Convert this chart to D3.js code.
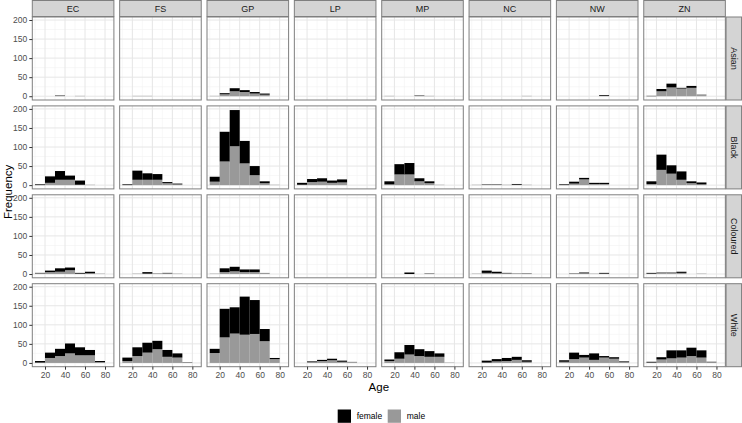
<!DOCTYPE html>
<html>
<head>
<meta charset="utf-8">
<script src="https://cdn.jsdelivr.net/npm/d3@7"></script>
<style>
  body { margin: 0; background: #fff; }
  svg { display: block; font-family: "Liberation Sans", Arial, sans-serif; }
</style>
</head>
<body>
<div id="chart"></div>
<script>
// facets
var provinces = ["EC", "FS", "GP", "LP", "MP", "NC", "NW", "ZN"];
var races = ["Asian", "Black", "Coloured", "White"];
// histogram bins (start of each 10-year bin)
var binStarts = [10, 20, 30, 40, 50, 60, 70];
var binWidth = 10;
var xTicks = [20, 40, 60, 80];
var yTicks = [0, 50, 100, 150, 200];
var genders = ["female", "male"];

// counts per province, one row per province, one value per bin
var femaleAsian = [
	[0, 0, 1, 0, 0, 0, 0], [0, 0, 0, 0, 0, 0, 0], [0, 3, 8, 5, 4, 3, 0], [0, 0, 0, 0, 0, 0, 0],
	[0, 0, 0, 1, 0, 0, 0], [0, 0, 0, 0, 0, 0, 0], [0, 0, 0, 0, 2, 0, 0], [1, 6, 10, 2, 5, 0, 0]];
var maleAsian = [
	[0, 0, 1, 0, 1, 0, 0], [0, 1, 1, 0, 0, 0, 0], [1, 5, 13, 11, 7, 4, 0], [0, 0, 0, 0, 0, 0, 0],
	[1, 0, 0, 1, 1, 0, 0], [0, 0, 0, 0, 0, 1, 0], [0, 0, 0, 0, 1, 0, 0], [0, 13, 23, 20, 22, 5, 0]];
var femaleBlack = [
	[2, 17, 23, 11, 11, 0, 0], [2, 24, 17, 15, 3, 2, 0], [13, 78, 95, 59, 24, 5, 0], [5, 8, 9, 6, 8, 0, 0],
	[8, 27, 30, 8, 5, 0, 0], [0, 1, 1, 0, 2, 0, 0], [2, 5, 4, 3, 3, 0, 0], [7, 40, 22, 22, 5, 5, 0]];
var maleBlack = [
	[0, 6, 14, 14, 1, 1, 0], [0, 14, 14, 14, 5, 2, 0], [9, 62, 102, 57, 26, 5, 1], [1, 8, 9, 6, 7, 0, 0],
	[2, 28, 28, 10, 5, 1, 0], [1, 1, 1, 1, 1, 1, 0], [0, 4, 15, 3, 3, 0, 0], [3, 40, 30, 14, 5, 2, 0]];
var femaleColoured = [
	[1, 4, 9, 7, 2, 4, 0], [0, 0, 4, 0, 1, 0, 0], [0, 10, 12, 7, 7, 0, 0], [0, 0, 0, 0, 0, 0, 0],
	[0, 0, 4, 0, 1, 0, 0], [0, 6, 4, 1, 0, 1, 0], [0, 1, 2, 0, 2, 0, 0], [2, 1, 1, 3, 0, 0, 0]];
var maleColoured = [
	[2, 5, 6, 10, 1, 2, 1], [0, 1, 1, 2, 2, 1, 0], [1, 5, 7, 5, 5, 3, 0], [0, 0, 0, 0, 0, 0, 0],
	[0, 0, 0, 0, 0, 0, 0], [1, 3, 2, 2, 2, 0, 0], [0, 0, 2, 1, 1, 0, 0], [1, 3, 3, 3, 0, 1, 0]];
var femaleWhite = [
	[4, 14, 19, 26, 21, 14, 3], [9, 23, 26, 22, 18, 11, 1], [11, 75, 69, 100, 89, 32, 3], [0, 2, 3, 4, 3, 0, 0],
	[4, 17, 25, 18, 15, 9, 0], [0, 5, 6, 8, 8, 4, 0], [4, 17, 7, 17, 4, 4, 2], [2, 6, 21, 19, 22, 19, 1]];
var maleWhite = [
	[1, 13, 18, 25, 20, 20, 2], [5, 18, 27, 36, 16, 14, 0], [26, 67, 77, 74, 76, 57, 10], [0, 2, 5, 7, 3, 3, 0],
	[5, 11, 22, 18, 16, 16, 1], [0, 1, 4, 5, 8, 3, 0], [3, 10, 14, 8, 14, 11, 2], [1, 9, 12, 14, 18, 14, 2]];

var female = {Asian: femaleAsian, Black: femaleBlack, Coloured: femaleColoured, White: femaleWhite};
var male = {Asian: maleAsian, Black: maleBlack, Coloured: maleColoured, White: maleWhite};

var width = 742, height = 423;
var panelLeft = 32.3, panelTop = 17,
	panelW = 81.6, panelH = 83,
	stepX = 87.35, stepY = 88.9;
var stripH = 16, stripW = 15.5;
var colour = d3.scaleOrdinal().domain(genders).range(["#000000", "#999999"]);

var x = d3.scaleLinear().domain([7.3, 88.9]).range([0, panelW]);
var y = d3.scaleLinear().domain([-9.9, 207.9]).range([panelH, 0]);

var svg = d3.select("#chart").append("svg")
	.attr("width", width)
	.attr("height", height);

var stack = d3.stack().keys(["male", "female"]);

races.forEach(function(race, j) {
	provinces.forEach(function(prov, i) {
		var g = svg.append("g")
			.attr("transform", "translate(" + (panelLeft + i * stepX) + "," + (panelTop + j * stepY) + ")");

		g.append("rect")
			.attr("width", panelW).attr("height", panelH)
			.attr("fill", "#fff");

		// minor grid
		g.selectAll(".mx").data([10, 30, 50, 70]).enter().append("line")
			.attr("x1", d => x(d)).attr("x2", d => x(d))
			.attr("y1", 0).attr("y2", panelH)
			.attr("stroke", "#f2f2f2").attr("stroke-width", 0.6);
		g.selectAll(".my").data([25, 75, 125, 175]).enter().append("line")
			.attr("y1", d => y(d)).attr("y2", d => y(d))
			.attr("x1", 0).attr("x2", panelW)
			.attr("stroke", "#f2f2f2").attr("stroke-width", 0.6);
		// major grid
		g.selectAll(".gx").data(xTicks).enter().append("line")
			.attr("x1", d => x(d)).attr("x2", d => x(d))
			.attr("y1", 0).attr("y2", panelH)
			.attr("stroke", "#e6e6e6").attr("stroke-width", 1);
		g.selectAll(".gy").data(yTicks).enter().append("line")
			.attr("y1", d => y(d)).attr("y2", d => y(d))
			.attr("x1", 0).attr("x2", panelW)
			.attr("stroke", "#e6e6e6").attr("stroke-width", 1);

		var rows = binStarts.map(function(b, k) {
			return {bin: b, female: female[race][i][k], male: male[race][i][k]};
		});
		var series = stack(rows);

		g.selectAll(".layer").data(series).enter().append("g")
			.attr("fill", d => colour(d.key))
			.selectAll("rect").data(d => d.filter(s => s[1] > s[0])).enter().append("rect")
			.attr("x", d => x(d.data.bin))
			.attr("width", d => x(d.data.bin + binWidth) - x(d.data.bin))
			.attr("y", d => y(d[1]))
			.attr("height", d => y(d[0]) - y(d[1]));

		g.append("rect")
			.attr("width", panelW).attr("height", panelH)
			.attr("fill", "none")
			.attr("stroke", "#7f7f7f").attr("stroke-width", 1);

		// y axis on first column
		if (i == 0) {
			var ya = g.append("g")
				.call(d3.axisLeft(y).tickValues(yTicks).tickSize(3).tickPadding(2));
			ya.select(".domain").remove();
			ya.selectAll("line").attr("stroke", "#333");
			ya.selectAll("text").attr("fill", "#4d4d4d").style("font-size", "8.5px")
				.style("font-family", "'Liberation Sans', Arial, sans-serif");
		}
		// x axis on bottom row
		if (j == races.length - 1) {
			var xa = g.append("g")
				.attr("transform", "translate(0," + panelH + ")")
				.call(d3.axisBottom(x).tickValues(xTicks).tickSize(3).tickPadding(2));
			xa.select(".domain").remove();
			xa.selectAll("line").attr("stroke", "#333");
			xa.selectAll("text").attr("fill", "#4d4d4d").style("font-size", "8.5px")
				.style("font-family", "'Liberation Sans', Arial, sans-serif");
		}
	});
});

// top strips
provinces.forEach(function(prov, i) {
	var px = panelLeft + i * stepX;
	svg.append("rect")
		.attr("x", px).attr("y", 0.5)
		.attr("width", panelW).attr("height", stripH)
		.attr("fill", "#d4d4d4").attr("stroke", "#7f7f7f");
	svg.append("text")
		.attr("x", px + panelW / 2).attr("y", 0.5 + stripH / 2)
		.attr("text-anchor", "middle").attr("dominant-baseline", "central")
		.attr("fill", "#1a1a1a").style("font-size", "9px")
		.text(prov);
});

// right strips
races.forEach(function(race, j) {
	var py = panelTop + j * stepY;
	var sx = panelLeft + 7 * stepX + panelW + 0.7;
	svg.append("rect")
		.attr("x", sx).attr("y", py)
		.attr("width", stripW).attr("height", panelH)
		.attr("fill", "#d4d4d4").attr("stroke", "#7f7f7f");
	svg.append("text")
		.attr("transform", "translate(" + (sx + stripW / 2) + "," + (py + panelH / 2) + ") rotate(90)")
		.attr("text-anchor", "middle").attr("dominant-baseline", "central")
		.attr("fill", "#1a1a1a").style("font-size", "9px")
		.text(race);
});

// axis titles
svg.append("text")
	.attr("x", panelLeft + (7 * stepX + panelW) / 2).attr("y", 391)
	.attr("text-anchor", "middle")
	.style("font-size", "11.5px").attr("fill", "#000")
	.text("Age");
svg.append("text")
	.attr("transform", "translate(12," + (panelTop + (3 * stepY + panelH) / 2) + ") rotate(-90)")
	.attr("text-anchor", "middle")
	.style("font-size", "11.5px").attr("fill", "#000")
	.text("Frequency");

// legend
var legend = svg.append("g").attr("transform", "translate(337.7,409.5)");
var legendX = [0, 50];
genders.forEach(function(gd, k) {
	var lg = legend.append("g").attr("transform", "translate(" + legendX[k] + ",0)");
	lg.append("rect")
		.attr("width", 13.3).attr("height", 13.3)
		.attr("fill", colour(gd));
	lg.append("text")
		.attr("x", 19).attr("y", 6.8)
		.attr("dominant-baseline", "central")
		.style("font-size", "8.5px").attr("fill", "#000")
		.text(gd);
});
</script>
</body>
</html>
